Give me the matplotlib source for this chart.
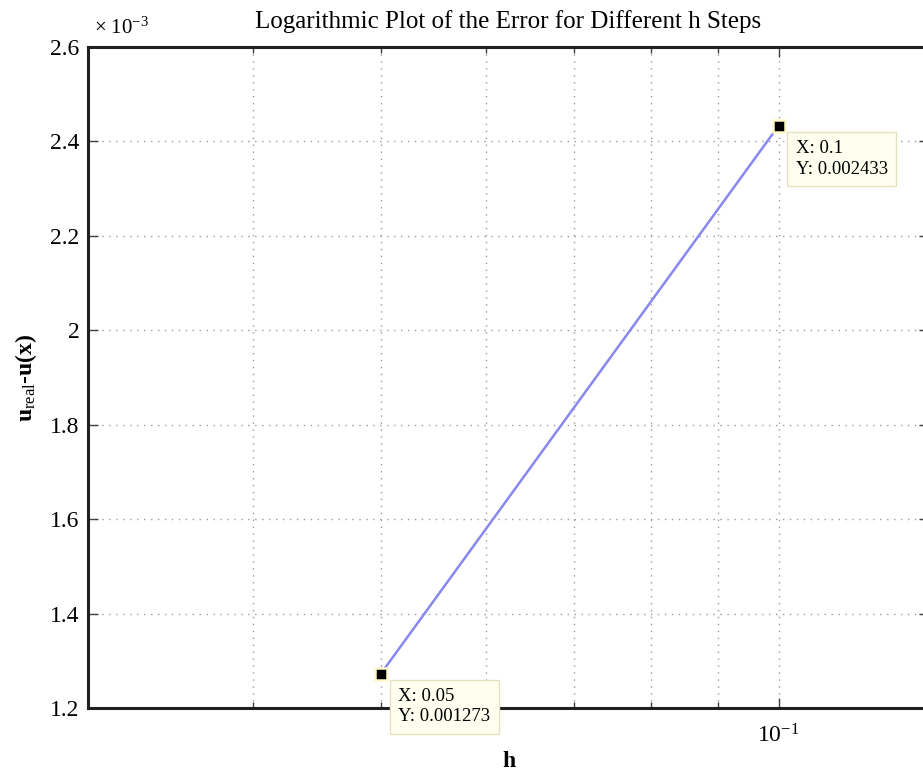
import matplotlib
matplotlib.use("Agg")
import matplotlib.pyplot as plt
from matplotlib.ticker import FixedLocator, NullFormatter, FuncFormatter

plt.rcParams['font.family'] = ['Liberation Serif', 'DejaVu Serif']
plt.rcParams['mathtext.fontset'] = 'custom'
plt.rcParams['mathtext.rm'] = 'Liberation Serif'
plt.rcParams['mathtext.it'] = 'Liberation Serif:italic'
plt.rcParams['mathtext.bf'] = 'Liberation Serif:bold'

h_values = [0.05, 0.1]
err_values = [0.001273, 0.002433]
y_ticks = [1.2e-3, 1.4e-3, 1.6e-3, 1.8e-3, 2.0e-3, 2.2e-3, 2.4e-3, 2.6e-3]
y_ticklabels = ['1.2', '1.4', '1.6', '1.8', '2', '2.2', '2.4', '2.6']
x_minor = [0.03, 0.04, 0.05, 0.06, 0.07, 0.08, 0.09]
tips = ["X: 0.05\nY: 0.001273", "X: 0.1\nY: 0.002433"]

W, H = 923, 773
fig = plt.figure(figsize=(W / 100, H / 100), dpi=100)
left, right, top, bottom = 88, 929, 47, 708
ax = fig.add_axes([left / W, 1 - bottom / H, (right - left) / W, (bottom - top) / H])

ax.set_xscale('log')
ax.set_xlim(0.03, 0.13)
ax.set_ylim(1.2e-3, 2.6e-3)

ax.plot(h_values, err_values, color='#8888f0', lw=1.8, zorder=3)
ax.plot(h_values, err_values, ls='none', marker='s', ms=9, mfc='black',
        mec='#fff8c8', mew=1.8, zorder=7)

# grid
ax.xaxis.set_major_locator(FixedLocator([0.1]))
ax.xaxis.set_minor_locator(FixedLocator(x_minor))
ax.xaxis.set_major_formatter(FuncFormatter(lambda v, p: r'$10^{-1}$'))
ax.xaxis.set_minor_formatter(NullFormatter())
ax.set_yticks(y_ticks)
ax.set_yticklabels(y_ticklabels)
ax.grid(True, which='both', axis='x', color='#9a9a9a', ls=(0, (1, 4)), lw=1.0)
ax.grid(True, which='major', axis='y', color='#9a9a9a', ls=(0, (1, 4)), lw=1.0)

ax.tick_params(axis='both', which='both', direction='in', top=True, right=True,
               labelsize=17, color='#404040')
ax.tick_params(axis='both', which='major', length=7, width=1)
ax.tick_params(axis='x', which='minor', length=4, width=1)
ax.tick_params(axis='x', which='major', pad=12)
ax.tick_params(axis='y', which='major', pad=6)
for s in ax.spines.values():
    s.set_linewidth(2.2)
    s.set_color('#202020')

ax.set_title('Logarithmic Plot of the Error for Different h Steps', fontsize=18, pad=14)
ax.set_xlabel('h', fontsize=17, fontweight='bold', labelpad=2)
ax.set_ylabel(r'$\mathbf{u}_{\mathrm{real}}$' + '-u(x)', fontsize=17, fontweight='bold', labelpad=8)
fig.text(94 / W, 1 - 28 / H, r'$\times\ 10^{-3}$', fontsize=15, va='center', ha='left')

# data tips
for xv, yv, t in zip(h_values, err_values, tips):
    ax.annotate(t, (xv, yv), xytext=(12.5, -10.5), textcoords='offset points',
                ha='left', va='top', fontsize=13.5, linespacing=1.25, zorder=6,
                bbox=dict(boxstyle='square,pad=0.45', fc='#fffff0', ec='#e6e2c0', lw=1))

fig.savefig('out.png', dpi=100)
